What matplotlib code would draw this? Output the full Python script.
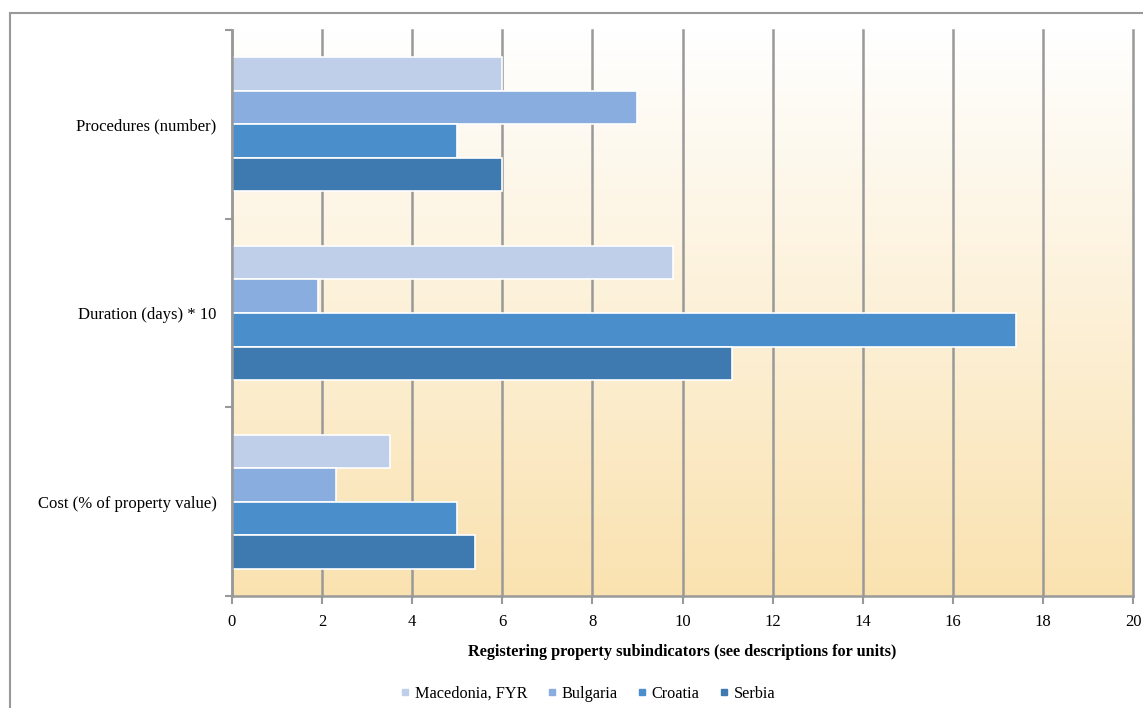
import numpy as np
import matplotlib.pyplot as plt
from matplotlib.lines import Line2D
from matplotlib.patches import Rectangle

plt.rcParams["font.family"] = ["Liberation Serif", "DejaVu Serif"]

categories = ["Cost (% of property value)", "Duration (days) * 10", "Procedures (number)"]
countries = ["Macedonia, FYR", "Bulgaria", "Croatia", "Serbia"]
macedonia = [3.5, 9.8, 6]
bulgaria = [2.3, 1.9, 9]
croatia = [5.0, 17.4, 5]
serbia = [5.4, 11.1, 6]
colors = ["#BFCFE9", "#8AADE0", "#4A8ECC", "#3E7AB0"]

fig = plt.figure(figsize=(11.43, 7.08), dpi=100)
ax = fig.add_axes([232 / 1143, 1 - 596 / 708, 901 / 1143, 566 / 708])

# vertical gradient background, white at top to pale orange at bottom
grad = np.linspace(0, 1, 256).reshape(-1, 1)
top = np.array([1.0, 1.0, 1.0])
bottom = np.array([0xFA, 0xE2, 0xB0]) / 255
img = top + (bottom - top) * grad[:, :, None]
ax.imshow(img, extent=[0, 1, 0, 1], transform=ax.transAxes, aspect="auto", zorder=0)

y = np.arange(len(categories))
h = 0.178
series = [macedonia, bulgaria, croatia, serbia]
for i, (vals, c, name) in enumerate(zip(series, colors, countries)):
    offs = (1.5 - i) * h
    ax.barh(y + offs, vals, height=h, color=c, edgecolor="white", linewidth=1.2,
            label=name, zorder=3)

ax.set_xlim(0, 20)
ax.set_ylim(-0.5, 2.5)
ax.set_xticks(np.arange(0, 21, 2))
ax.set_yticks(y)
ax.set_yticklabels(categories)
ax.set_yticks(np.arange(-0.5, 2.6, 1), minor=True)
ax.tick_params(axis="y", which="major", length=0, pad=11, labelsize=12)
ax.tick_params(axis="y", which="minor", length=5, width=1.5, color="#999999", direction="out")
ax.tick_params(axis="x", length=6, width=1.5, color="#999999", direction="out", pad=7, labelsize=12)
ax.grid(axis="x", color="#999999", linewidth=1.8, zorder=1)
for gl in ax.get_xgridlines():
    gl.set_clip_on(False)
ax.set_axisbelow(True)
for s in ["top", "right"]:
    ax.spines[s].set_visible(False)
for s in ["left", "bottom"]:
    ax.spines[s].set_color("#999999")
    ax.spines[s].set_linewidth(1.8)
    ax.spines[s].set_zorder(4)

ax.set_xlabel("Registering property subindicators (see descriptions for units)",
              fontweight="bold", fontsize=11.7, labelpad=10)

handles = [Line2D([], [], marker="s", linestyle="none", color=c, markersize=5) for c in colors]
fig.legend(handles, countries, loc="center", bbox_to_anchor=(586 / 1143, 1 - 694 / 708),
           ncol=4, frameon=False, fontsize=11.7, handletextpad=0.1, columnspacing=1.0,
           handlelength=1.0)

# outer chart frame
fig.patches.append(Rectangle((10 / 1143, -0.1), 1.2, 0.1 + (708 - 13) / 708,
                             transform=fig.transFigure, fill=False,
                             edgecolor="#999999", linewidth=1.5))

fig.savefig("out.png", dpi=100)
